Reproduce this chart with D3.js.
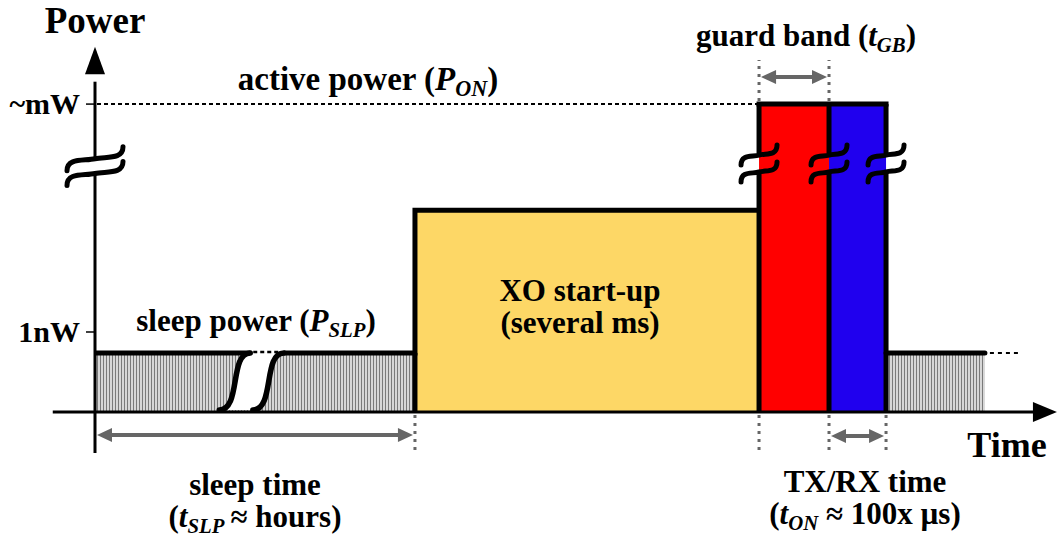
<!DOCTYPE html>
<html>
<head>
<meta charset="utf-8">
<script src="https://cdn.jsdelivr.net/npm/d3@7/dist/d3.min.js"></script>
<style>
  html, body { margin: 0; padding: 0; background: #fff; }
  svg { display: block; }
  text { font-family: "Liberation Serif", "Times New Roman", serif; font-weight: bold; fill: #000; }
</style>
</head>
<body>
<svg id="chart" width="1057" height="536"></svg>
<script>
// ---------------- data (arbitrary time / power units) ----------------
const phases      = ["sleep", "XO start-up", "guard band", "TX/RX", "sleep"];
const phaseStart  = [0, 33.33, 69.17, 76.46, 82.4];
const phaseEnd    = [33.33, 69.17, 76.46, 82.4, 92.7];
const phasePower  = [0.161, 0.550, 0.839, 0.839, 0.161];
const powerTicks      = [0.218, 0.839];
const powerTickLabels = ["1nW", "~mW"];
const sleepBreak  = [14.4, 17.9];      // time-axis break inside the first sleep phase
const sleepTrailEnd = 96.2;            // dotted continuation of the last sleep phase
const axisBreakPower = [0.69, 0.65];   // power-axis break marks (upper, lower)

// ---------------- styles ----------------
const fillOf = { "XO start-up": "#fdd766", "guard band": "#ff0000", "TX/RX": "#2000ee" };
const svg = d3.select("#chart");
const x = d3.scaleLinear().domain([0, 100]).range([95, 1055]);
const y = d3.scaleLinear().domain([0, 1]).range([412, 45]);
const X0 = x(0), Y0 = y(0);

const defs = svg.append("defs");
const pat = defs.append("pattern").attr("id", "hatch").attr("patternUnits", "userSpaceOnUse")
  .attr("width", 3).attr("height", 10);
pat.append("rect").attr("width", 3).attr("height", 10).attr("fill", "#dcdcdc");
pat.append("line").attr("x1", 1.5).attr("x2", 1.5).attr("y1", 0).attr("y2", 10)
  .attr("stroke", "#7a7a7a").attr("stroke-width", 1.1);

const data = phases.map((p, i) => ({ name: p, t0: phaseStart[i], t1: phaseEnd[i], p: phasePower[i] }));

// fills
svg.append("g").selectAll("rect").data(data).join("rect")
  .attr("x", d => x(d.t0)).attr("width", d => x(d.t1) - x(d.t0))
  .attr("y", d => y(d.p)).attr("height", d => Y0 - y(d.p))
  .attr("fill", d => d.name === "sleep" ? "url(#hatch)" : fillOf[d.name]);

// white gap in the first sleep phase (break in time)
const bx0 = x(sleepBreak[0]), bx1 = x(sleepBreak[1]);
const ys = y(phasePower[0]), yb = Y0 - 2;
function sCurve(xb) { // integral-like curve from bottom-left to top-right
  return `M${xb - 14},${yb} C${xb + 8},${yb} ${xb - 4},${ys} ${xb + 17},${ys}`;
}
svg.append("path")
  .attr("d", `M${bx0 - 14},${yb} C${bx0 + 8},${yb} ${bx0 - 4},${ys} ${bx0 + 17},${ys} L${bx1 + 17},${ys} C${bx1 - 4},${ys} ${bx1 + 8},${yb} ${bx1 - 14},${yb} Z`)
  .attr("fill", "#fff");

// ---------------- dashed / dotted guides ----------------
const gray = "#666";
const guideG = svg.append("g").attr("stroke", gray).attr("stroke-width", 3).attr("stroke-dasharray", "3,5").attr("fill", "none");
[phaseEnd[0], phaseEnd[1], phaseEnd[2], phaseEnd[3]].forEach((t) => {
  guideG.append("line").attr("x1", x(t)).attr("x2", x(t)).attr("y1", Y0 + 3).attr("y2", Y0 + 42);
});
[phaseEnd[1], phaseEnd[2]].forEach(t => {
  guideG.append("line").attr("x1", x(t)).attr("x2", x(t)).attr("y1", y(phasePower[2]) - 3).attr("y2", 60);
});
// ~mW dashed level line
svg.append("line").attr("x1", X0 + 2).attr("x2", x(phaseEnd[1]) - 2)
  .attr("y1", y(powerTicks[1])).attr("y2", y(powerTicks[1]))
  .attr("stroke", "#000").attr("stroke-width", 2).attr("stroke-dasharray", "4,3");
// dotted continuation after last sleep
svg.append("line").attr("x1", x(phaseEnd[4]) + 5).attr("x2", x(sleepTrailEnd))
  .attr("y1", y(phasePower[4])).attr("y2", y(phasePower[4]))
  .attr("stroke", "#000").attr("stroke-width", 2).attr("stroke-dasharray", "4,4");
// dotted bridge across sleep break
svg.append("line").attr("x1", bx0 + 20).attr("x2", bx1 + 14)
  .attr("y1", ys - 1).attr("y2", ys - 1)
  .attr("stroke", "#000").attr("stroke-width", 2.5).attr("stroke-dasharray", "4,3");

// ---------------- axes ----------------
const axG = svg.append("g").attr("stroke", "#000").attr("fill", "none");
// time axis
axG.append("line").attr("x1", x(-4.4)).attr("x2", x(98)).attr("y1", Y0).attr("y2", Y0).attr("stroke-width", 3);
svg.append("path").attr("d", `M${x(100.2)},${Y0} L${x(97.7)},${Y0 - 10} L${x(97.7)},${Y0 + 10} Z`).attr("fill", "#000");
// power axis (with break)
const yA1 = y(axisBreakPower[0]), yA2 = y(axisBreakPower[1]);
axG.append("line").attr("x1", X0).attr("x2", X0).attr("y1", Y0 + 41).attr("y2", yA2).attr("stroke-width", 3);
axG.append("line").attr("x1", X0).attr("x2", X0).attr("y1", yA1).attr("y2", y(0.9)).attr("stroke-width", 3);
svg.append("path").attr("d", `M${X0},${y(0.995)} L${X0 - 10},${y(0.92)} L${X0 + 10},${y(0.92)} Z`).attr("fill", "#000");
// ticks
powerTicks.forEach((p, i) => {
  axG.append("line").attr("x1", X0 - 9).attr("x2", X0).attr("y1", y(p)).attr("y2", y(p)).attr("stroke-width", 1.5);
  svg.append("text").attr("x", X0 - 15).attr("y", y(p) + 10).attr("text-anchor", "end")
    .attr("font-size", 30).text(powerTickLabels[i]);
});

// break marks (double tilde)
function tilde(cx, cy, w, h) {
  return `M${cx - w / 2},${cy + h / 2} C${cx - w / 2},${cy - h * 0.05} ${cx - w * 0.2},${cy + h * 0.1} ${cx},${cy} S${cx + w / 2},${cy + h * 0.05} ${cx + w / 2},${cy - h / 2}`;
}
const brk = svg.append("g").attr("stroke", "#000").attr("stroke-width", 5).attr("fill", "none").attr("stroke-linecap", "round");
brk.append("path").attr("d", tilde(X0, yA1, 56, 24));
brk.append("path").attr("d", tilde(X0, yA2, 56, 24));

// ---------------- outlines ----------------
const ol = svg.append("g").attr("stroke", "#000").attr("stroke-width", 5).attr("fill", "none")
  .attr("stroke-linejoin", "miter");
const yS = y(phasePower[0]), yXO = y(phasePower[1]), yON = y(phasePower[2]);
const gapTop = y(0.705), gapBot = y(0.659);
ol.append("path").attr("d", `M${X0},${yS} L${bx0 + 17},${yS}`);
ol.append("path").attr("d", `M${bx1 + 17},${yS} L${x(phaseEnd[0])},${yS} L${x(phaseEnd[0])},${yXO} L${x(phaseEnd[1])},${yXO}`);
ol.append("path").attr("d", `M${x(phaseEnd[0])},${yS} L${x(phaseEnd[0])},${Y0}`);
// red/blue block edges (with break gap)
[phaseEnd[1], phaseEnd[2], phaseEnd[3]].forEach(t => {
  ol.append("line").attr("x1", x(t)).attr("x2", x(t)).attr("y1", yON).attr("y2", gapTop);
  ol.append("line").attr("x1", x(t)).attr("x2", x(t)).attr("y1", gapBot).attr("y2", Y0);
});
ol.append("path").attr("d", `M${x(phaseEnd[1])},${yON} L${x(phaseEnd[3])},${yON}`).attr("stroke-linecap", "square");
ol.append("path").attr("d", `M${x(phaseStart[4])},${yS} L${x(phaseEnd[4])},${yS}`).attr("stroke-linecap", "round");
// sleep break s-curves
ol.append("path").attr("d", sCurve(bx0)).attr("stroke-linecap", "round").attr("stroke-width", 5.5);
ol.append("path").attr("d", sCurve(bx1)).attr("stroke-linecap", "round").attr("stroke-width", 5.5);
// break marks on the active block
[phaseEnd[1], phaseEnd[2], phaseEnd[3]].forEach(t => {
  brk.append("path").attr("d", tilde(x(t), y(0.700), 36, 20));
  brk.append("path").attr("d", tilde(x(t), y(0.654), 36, 20));
});
brk.raise();

// ---------------- span arrows ----------------
function dblArrow(xa, xb, yy) {
  const g = svg.append("g");
  const hl = 17, hw = 7;
  g.append("line").attr("x1", xa + hl - 2).attr("x2", xb - hl + 2).attr("y1", yy).attr("y2", yy)
    .attr("stroke", gray).attr("stroke-width", 4);
  g.append("path").attr("d", `M${xa + 2},${yy} L${xa + hl},${yy - hw} L${xa + hl},${yy + hw} Z`).attr("fill", gray);
  g.append("path").attr("d", `M${xb - 2},${yy} L${xb - hl},${yy - hw} L${xb - hl},${yy + hw} Z`).attr("fill", gray);
}
dblArrow(X0, x(phaseEnd[0]), 435);
dblArrow(x(phaseEnd[1]), x(phaseEnd[2]), 77);
dblArrow(x(phaseEnd[2]), x(phaseEnd[3]), 436);

// ---------------- labels ----------------
function label(cx, cy, size, parts) {
  const t = svg.append("text").attr("x", cx).attr("y", cy).attr("text-anchor", "middle").attr("font-size", size);
  let shift = 0;
  parts.forEach(pt => {
    const s = t.append("tspan").text(pt.t);
    if (pt.i) s.attr("font-style", "italic");
    if (pt.sub) { s.attr("font-size", size * 0.67).attr("dy", 6 - shift); shift = 6; }
    else if (shift) { s.attr("dy", -shift); shift = 0; }
  });
  return t;
}
label(X0, 33, 37, [{ t: "Power" }]);
label(1007, 457, 36, [{ t: "Time" }]);
label(368, 90, 33, [{ t: "active power (" }, { t: "P", i: 1 }, { t: "ON", i: 1, sub: 1 }, { t: ")" }]);
label(256, 331, 31, [{ t: "sleep power (" }, { t: "P", i: 1 }, { t: "SLP", i: 1, sub: 1 }, { t: ")" }]);
label(806, 46, 31, [{ t: "guard band (" }, { t: "t", i: 1 }, { t: "GB", i: 1, sub: 1 }, { t: ")" }]);
label(580, 301, 31, [{ t: "XO start-up" }]);
label(580, 333, 31, [{ t: "(several ms)" }]);
label(255, 495, 31, [{ t: "sleep time" }]);
label(255, 527, 31, [{ t: "(" }, { t: "t", i: 1 }, { t: "SLP", i: 1, sub: 1 }, { t: "\u2009\u2248 hours)" }]);
label(865, 492, 31, [{ t: "TX/RX time" }]);
label(865, 524, 31, [{ t: "(" }, { t: "t", i: 1 }, { t: "ON", i: 1, sub: 1 }, { t: " \u2248 100x \u00b5s)" }]);
</script>
</body>
</html>
